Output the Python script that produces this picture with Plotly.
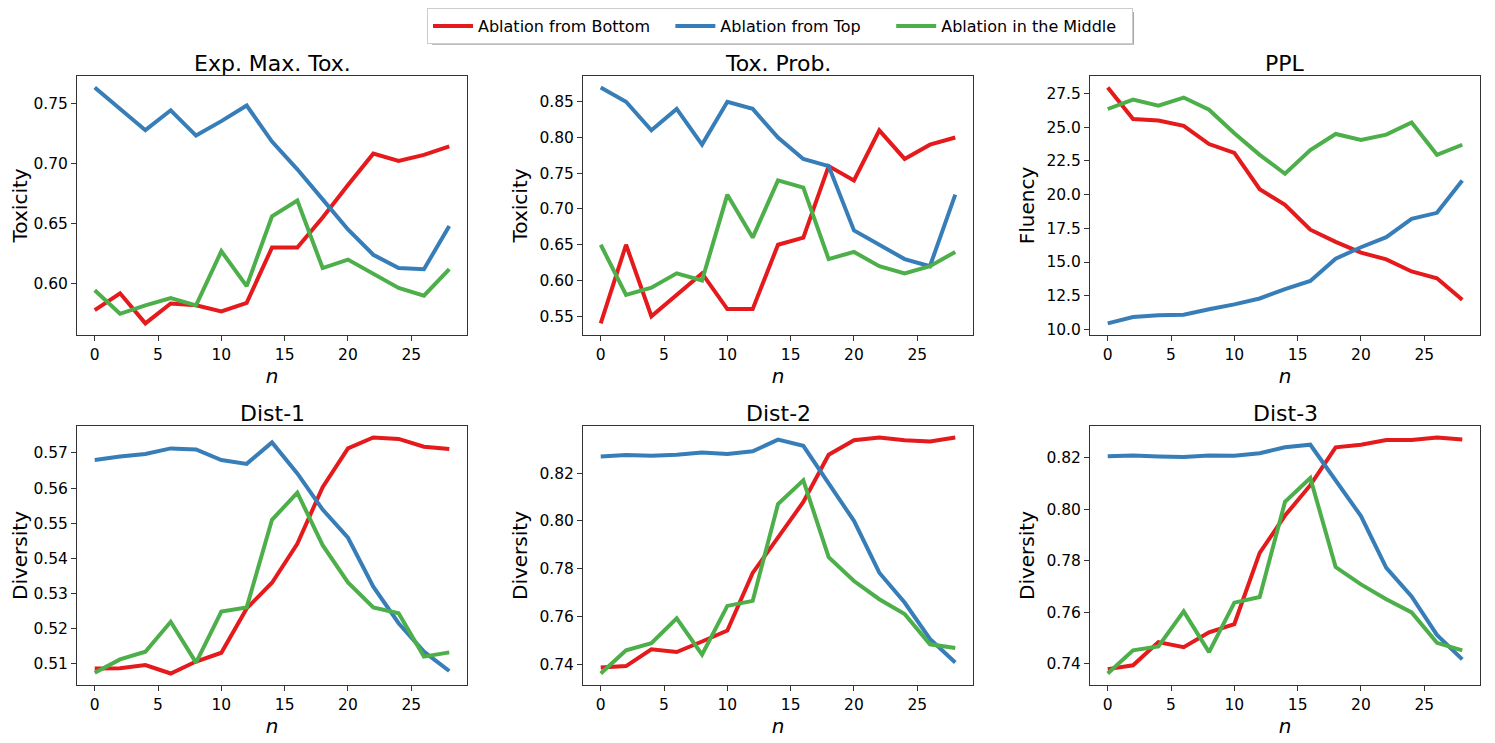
import plotly.graph_objects as go

n = [0, 2, 4, 6, 8, 10, 12, 14, 16, 18, 20, 22, 24, 26, 28]

series_names = ["Ablation from Bottom", "Ablation from Top", "Ablation in the Middle"]
name_pad = [3, 5, 2]
colors = ["#e41a1c", "#377eb8", "#4daf4a"]

titles = ["Exp. Max. Tox.", "Tox. Prob.", "PPL", "Dist-1", "Dist-2", "Dist-3"]
ylabels = ["Toxicity", "Toxicity", "Fluency", "Diversity", "Diversity", "Diversity"]

# Exp. Max. Tox.
emt_bottom = [0.578, 0.592, 0.567, 0.5835, 0.582, 0.577, 0.584, 0.630, 0.630, 0.655, 0.682, 0.708, 0.702, 0.707, 0.714]
emt_top = [0.763, 0.745, 0.7275, 0.744, 0.723, 0.735, 0.748, 0.718, 0.695, 0.670, 0.645, 0.624, 0.613, 0.612, 0.648]
emt_middle = [0.5945, 0.575, 0.582, 0.588, 0.582, 0.627, 0.598, 0.656, 0.669, 0.613, 0.620, 0.608, 0.5965, 0.590, 0.612]

# Tox. Prob.
tp_bottom = [0.54, 0.65, 0.55, 0.58, 0.61, 0.56, 0.56, 0.65, 0.66, 0.76, 0.74, 0.81, 0.77, 0.79, 0.80]
tp_top = [0.87, 0.85, 0.81, 0.84, 0.79, 0.85, 0.84, 0.80, 0.77, 0.76, 0.67, 0.65, 0.63, 0.62, 0.72]
tp_middle = [0.65, 0.58, 0.59, 0.61, 0.60, 0.72, 0.66, 0.74, 0.73, 0.63, 0.64, 0.62, 0.61, 0.62, 0.64]

# PPL
ppl_bottom = [27.95, 25.6, 25.5, 25.1, 23.75, 23.1, 20.4, 19.25, 17.4, 16.5, 15.7, 15.2, 14.3, 13.8, 12.2]
ppl_top = [10.45, 10.93, 11.05, 11.1, 11.5, 11.86, 12.3, 13.0, 13.6, 15.25, 16.1, 16.85, 18.2, 18.65, 21.05]
ppl_middle = [26.35, 27.05, 26.6, 27.2, 26.3, 24.55, 22.95, 21.55, 23.3, 24.5, 24.05, 24.45, 25.35, 22.95, 23.7]

# Dist-1
d1_bottom = [0.5087, 0.5088, 0.5097, 0.5073, 0.5107, 0.5132, 0.5258, 0.5331, 0.5442, 0.5603, 0.5713, 0.5744, 0.5740, 0.5718, 0.5711]
d1_top = [0.5680, 0.5690, 0.5697, 0.5713, 0.5710, 0.5680, 0.5669, 0.5730, 0.5642, 0.5539, 0.5459, 0.5320, 0.5216, 0.5135, 0.5080]
d1_middle = [0.5075, 0.5113, 0.5135, 0.5220, 0.5104, 0.5249, 0.5261, 0.5510, 0.5587, 0.5438, 0.5332, 0.5261, 0.5244, 0.5121, 0.5133]

# Dist-2
d2_bottom = [0.7386, 0.7392, 0.7462, 0.7451, 0.7495, 0.7541, 0.7782, 0.7930, 0.8079, 0.8277, 0.8338, 0.8349, 0.8338, 0.8332, 0.8349]
d2_top = [0.8270, 0.8276, 0.8273, 0.8277, 0.8286, 0.8280, 0.8291, 0.8340, 0.8314, 0.8156, 0.8000, 0.7783, 0.7658, 0.7506, 0.7407]
d2_middle = [0.7361, 0.7458, 0.7488, 0.7592, 0.7440, 0.7644, 0.7665, 0.8070, 0.8170, 0.7848, 0.7748, 0.7672, 0.7610, 0.7483, 0.7468]

# Dist-3
d3_bottom = [0.7380, 0.7395, 0.7485, 0.7465, 0.7523, 0.7555, 0.7831, 0.7976, 0.8094, 0.8241, 0.8251, 0.8269, 0.8269, 0.8279, 0.8271]
d3_top = [0.8206, 0.8209, 0.8205, 0.8203, 0.8209, 0.8208, 0.8218, 0.8241, 0.8251, 0.8113, 0.7974, 0.7773, 0.7662, 0.7513, 0.7418]
d3_middle = [0.7363, 0.7453, 0.7468, 0.7604, 0.7446, 0.7638, 0.7660, 0.8029, 0.8122, 0.7776, 0.7709, 0.7651, 0.7600, 0.7482, 0.7453]

panels = [
    (emt_bottom, emt_top, emt_middle),
    (tp_bottom, tp_top, tp_middle),
    (ppl_bottom, ppl_top, ppl_middle),
    (d1_bottom, d1_top, d1_middle),
    (d2_bottom, d2_top, d2_middle),
    (d3_bottom, d3_top, d3_middle),
]
ytick_step = [0.05, 0.05, 2.5, 0.01, 0.02, 0.02]
ytick_fmt = [".2f", ".2f", ".1f", ".2f", ".2f", ".2f"]

# page has an 8px body margin; figure sized so it ends at the window edge
OFF = 8
W, H = 1495 - OFF, 743 - OFF
FONT = "DejaVu Sans"


def px(x):
    return (x - OFF) / W


def py(y):
    return 1 - (y - OFF) / H


xdoms = [(77, 467), (583, 973), (1090, 1480)]
ydoms = [(76, 337), (428, 689)]

fig = go.Figure()
for i, data in enumerate(panels):
    r, c = divmod(i, 3)
    ax = "" if i == 0 else str(i + 1)
    for s in range(3):
        fig.add_trace(go.Scatter(
            x=n, y=data[s], mode="lines", name=series_names[s] + "\u00a0" * name_pad[s],
            line=dict(color=colors[s], width=4),
            xaxis="x" + ax, yaxis="y" + ax, showlegend=(i == 0),
        ))
    allv = data[0] + data[1] + data[2]
    lo, hi = min(allv), max(allv)
    pad = (hi - lo) * 0.05
    xpad = (max(n) - min(n)) * 0.05
    x0, x1 = xdoms[c]
    ytop, ybot = ydoms[r]
    common = dict(showline=True, mirror=True, linecolor="#333", linewidth=1,
                  ticks="outside", ticklen=5, tickcolor="#333", showgrid=False,
                  zeroline=False, tickfont=dict(size=15.5, color="black", family=FONT))
    fig.update_layout(**{
        "xaxis" + ax: dict(domain=[px(x0), px(x1)], range=[min(n) - xpad, max(n) + xpad],
                            anchor="y" + ax, tickmode="linear", tick0=0, dtick=5,
                            title=dict(text="<i>n</i>", font=dict(size=20, family=FONT, color="black"), standoff=0),
                            **common),
        "yaxis" + ax: dict(domain=[py(ybot), py(ytop)], range=[lo - pad, hi + pad],
                            anchor="x" + ax, tickmode="linear", tick0=0, dtick=ytick_step[i],
                            tickformat=ytick_fmt[i],
                            title=dict(text=ylabels[i], font=dict(size=20, family=FONT, color="black"), standoff=6),
                            **common),
    })
    fig.add_annotation(text=titles[i], x=(px(x0) + px(x1)) / 2, y=py(ytop + 2),
                       xref="paper", yref="paper", xanchor="center", yanchor="bottom",
                       showarrow=False, font=dict(size=22, family=FONT, color="black"))

# legend shadow
fig.add_shape(type="rect", xref="paper", yref="paper",
              x0=px(432), x1=px(1134), y0=py(45), y1=py(12),
              fillcolor="#a8a8a8", line=dict(width=0), layer="below")

fig.update_layout(
    width=W, height=H, margin=dict(l=0, r=0, t=0, b=0),
    plot_bgcolor="white", paper_bgcolor="white",
    font=dict(family=FONT, color="black"),
    legend=dict(orientation="h", x=px(780), y=1.0, xanchor="center", yanchor="top",
                bgcolor="white", bordercolor="#cccccc", borderwidth=1,
                font=dict(size=16, family=FONT, color="black"),
                itemwidth=40, tracegroupgap=0),
)

fig.write_html("out.html")
